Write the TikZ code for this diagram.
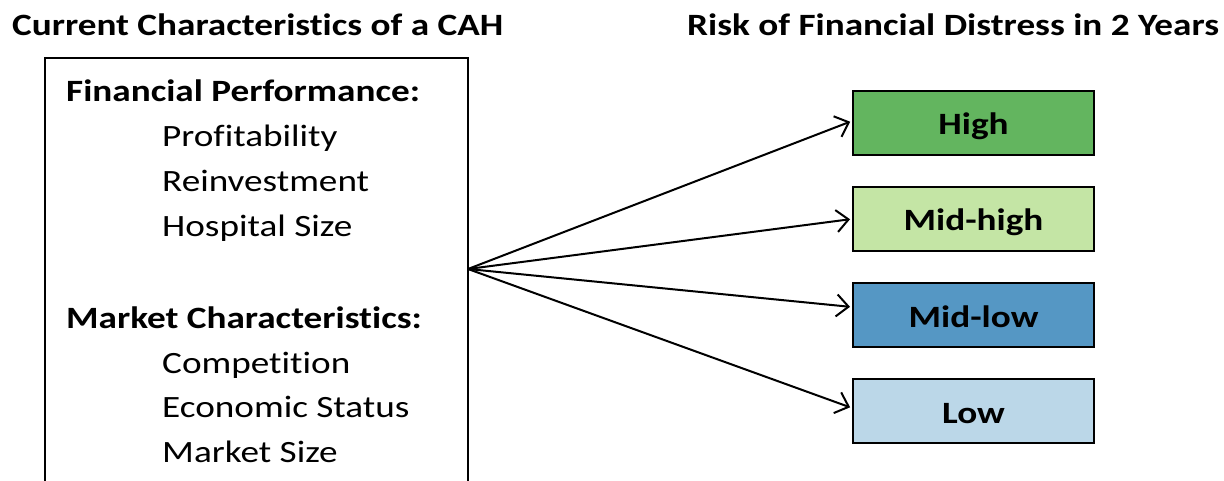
\documentclass[tikz,border=0pt]{standalone}
\usepackage{fontspec}
\setmainfont{Carlito}[FakeStretch=1.2, Ligatures={NoCommon}]
\usetikzlibrary{arrows.meta}
\definecolor{cHigh}{HTML}{63B55F}
\definecolor{cMidHigh}{HTML}{C4E5A5}
\definecolor{cMidLow}{HTML}{5597C4}
\definecolor{cLow}{HTML}{BBD7E8}
\tikzset{
  txt/.style={anchor=base west, inner sep=0pt, font=\fontsize{31}{37}\selectfont},
  btxt/.style={txt, font=\fontsize{31}{37}\selectfont\bfseries},
  riskbox/.style={draw=black, line width=2pt, minimum width=241pt, minimum height=64pt, inner sep=0pt, text height=24pt, text depth=0pt, font=\fontsize{31}{37}\selectfont\bfseries, anchor=north west},
  arr/.style={line width=2pt, -{Straight Barb[length=12pt,width=22pt,line width=2pt]}, shorten >=2pt}
}
\begin{document}
\begin{tikzpicture}[x=1pt,y=-1pt]
\useasboundingbox (0,0) rectangle (1224,481);
\begin{scope}
\clip (0,0) rectangle (1224,481);
% titles
\node[btxt] (t1) at (12,36) {Current Characteristics of a CAH};
\node[btxt] (t2) at (687,36) {Risk of Financial Distress in 2 Years};
% left box
\draw[line width=2pt] (45,500) -- (45,58) -- (468,58) -- (468,500);
\coordinate (o) at (468,269);
\node[btxt] (fp) at (66,102) {Financial Performance:};
\node[txt] (p1) at (162,147) {Profitability};
\node[txt] (p2) at (162,192) {Reinvestment};
\node[txt] (p3) at (162,237) {Hospital Size};
\node[btxt] (mc) at (66,328) {Market Characteristics:};
\node[txt] (m1) at (162,373) {Competition};
\node[txt] (m2) at (162,417) {Economic Status};
\node[txt] (m3) at (162,462) {Market Size};
% risk boxes
\node[riskbox, fill=cHigh] (hi) at (852,90) {High};
\node[riskbox, fill=cMidHigh] (mh) at (852,186) {Mid-high};
\node[riskbox, fill=cMidLow] (ml) at (852,282) {Mid-low};
\node[riskbox, fill=cLow] (lo) at (852,378) {Low};
% arrows
\draw[arr] (o) -- ([yshift=2pt]hi.west);
\draw[arr] (o) -- (mh.west);
\draw[arr] (o) -- ([yshift=8pt]ml.west);
\draw[arr] (o) -- ([yshift=3pt]lo.west);
\end{scope}
\end{tikzpicture}
\end{document}
